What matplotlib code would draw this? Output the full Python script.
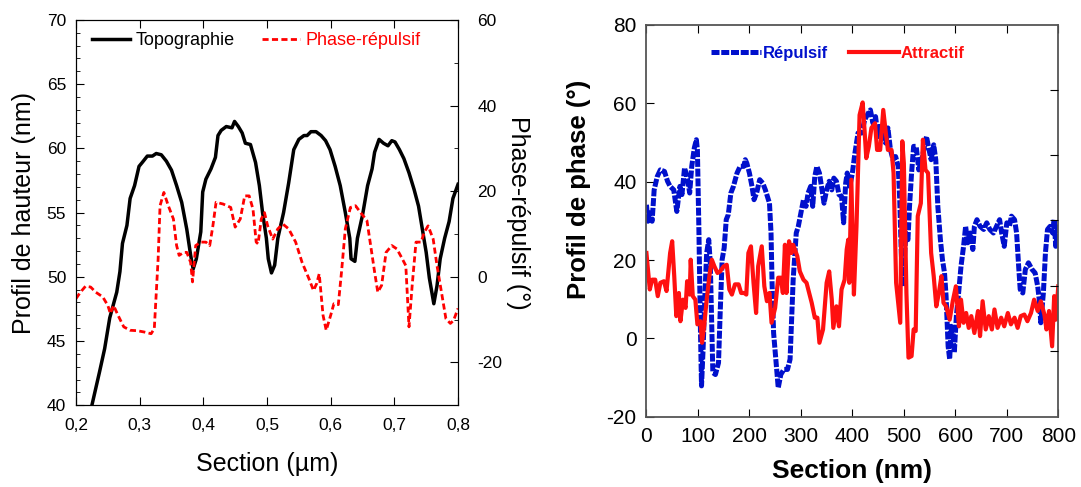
import matplotlib.pyplot as plt
from matplotlib.ticker import MultipleLocator, FuncFormatter

plt.rcParams['font.family'] = ['Liberation Sans', 'DejaVu Sans']
plt.rcParams['axes.unicode_minus'] = False

# ---- left panel: topography (nm) + repulsive phase (deg) vs section (um)
topo_x = [0.225, 0.237, 0.245, 0.253, 0.264, 0.269, 0.273, 0.280, 0.285, 0.292,
          0.299, 0.304, 0.312, 0.320, 0.326, 0.334, 0.342, 0.350, 0.358, 0.366,
          0.374, 0.380, 0.384, 0.389, 0.396, 0.399, 0.404, 0.412, 0.419, 0.423,
          0.428, 0.436, 0.445, 0.449, 0.455, 0.461, 0.466, 0.474, 0.482, 0.488,
          0.493, 0.499, 0.502, 0.507, 0.512, 0.517, 0.526, 0.534, 0.542, 0.550,
          0.558, 0.563, 0.569, 0.577, 0.585, 0.592, 0.599, 0.607, 0.615, 0.623,
          0.630, 0.632, 0.638, 0.642, 0.650, 0.658, 0.665, 0.669, 0.676, 0.683,
          0.690, 0.696, 0.701, 0.708, 0.715, 0.723, 0.731, 0.738, 0.744, 0.750,
          0.755, 0.762, 0.767, 0.772, 0.779, 0.786, 0.792, 0.800]
topo_y = [40.0, 42.6, 44.4, 46.8, 48.8, 50.4, 52.6, 54.0, 56.1, 57.1,
          58.6, 58.9, 59.4, 59.4, 59.6, 59.5, 59.0, 58.3, 57.1, 55.8,
          53.7, 51.7, 50.6, 51.4, 53.5, 56.6, 57.6, 58.4, 59.3, 61.0,
          61.4, 61.7, 61.6, 62.1, 61.7, 61.2, 60.4, 60.3, 58.9, 57.1,
          55.0, 53.0, 51.4, 50.3, 50.9, 53.0, 55.0, 57.3, 59.9, 60.7,
          61.0, 61.0, 61.3, 61.3, 61.0, 60.6, 59.9, 58.6, 57.1, 55.0,
          53.0, 51.4, 51.2, 53.0, 54.8, 57.1, 58.4, 59.7, 60.7, 60.4,
          60.2, 60.6, 60.5, 59.9, 59.2, 58.1, 56.8, 55.5, 53.7, 51.9,
          49.9, 47.9, 49.3, 51.4, 53.0, 54.3, 56.1, 57.2]

rep_x = [0.200, 0.207, 0.215, 0.223, 0.231, 0.242, 0.250, 0.254, 0.259, 0.266,
         0.275, 0.285, 0.296, 0.307, 0.318, 0.323, 0.329, 0.332, 0.338, 0.345,
         0.353, 0.358, 0.362, 0.369, 0.374, 0.380, 0.383, 0.388, 0.396, 0.404,
         0.410, 0.415, 0.420, 0.431, 0.443, 0.450, 0.458, 0.465, 0.472, 0.478,
         0.483, 0.486, 0.491, 0.496, 0.501, 0.509, 0.517, 0.525, 0.534, 0.545,
         0.555, 0.566, 0.573, 0.578, 0.582, 0.588, 0.593, 0.600, 0.605, 0.612,
         0.617, 0.623, 0.631, 0.639, 0.647, 0.657, 0.662, 0.669, 0.674, 0.680,
         0.687, 0.696, 0.704, 0.711, 0.718, 0.723, 0.728, 0.734, 0.742, 0.747,
         0.753, 0.761, 0.767, 0.774, 0.781, 0.788, 0.793, 0.800]
rep_y = [-5.1, -3.6, -2.2, -2.4, -3.6, -4.7, -6.7, -8.6, -6.7, -9.0,
         -11.7, -12.5, -12.6, -12.9, -13.3, -12.1, 4.2, 16.6, 19.7, 16.6,
         13.5, 7.3, 5.0, 5.7, 5.7, 3.4, -1.2, 7.3, 8.1, 8.1,
         7.3, 11.9, 17.4, 17.0, 16.2, 11.6, 13.5, 18.9, 18.9, 15.8,
         8.1, 7.7, 13.5, 15.0, 11.9, 8.8, 11.2, 12.3, 11.2, 8.1,
         3.4, -0.5, -3.2, -1.6, 0.7, -9.0, -12.5, -9.0, -6.3, -6.5,
         1.1, 11.2, 16.2, 16.6, 15.0, 13.1, 8.1, 1.1, -3.6, -2.0,
         5.7, 7.3, 6.5, 4.6, 2.6, -11.7, -2.0, 8.1, 8.1, 10.4,
         11.9, 8.8, 2.6, -3.6, -9.8, -10.9, -10.2, -7.4]

# ---- right panel: phase profiles (deg) vs section (nm)
att_x = [0, 6.5, 11, 17, 22, 27, 34, 39, 46, 50, 54, 58, 63, 66, 71, 76, 79, 84,
         86, 90, 95, 99, 105, 108, 112, 117, 123, 127, 132, 138, 143, 150, 156,
         161, 166, 172, 179, 184, 190, 194, 198, 203, 208, 213, 217, 224, 229,
         234, 239, 243, 250, 256, 261, 265, 269, 272, 277, 282, 285, 293, 298,
         305, 311, 316, 321, 327, 332, 336, 343, 350, 355, 360, 363, 369, 374,
         379, 385, 389, 392, 394, 398, 403, 408, 414, 420, 424, 427, 432, 437,
         444, 448, 454, 460, 465, 469, 476, 480, 485, 491, 493, 497, 500, 505,
         509, 515, 519, 523, 527, 533, 537, 542, 547, 553, 558, 563, 568, 573,
         577, 582, 589, 595, 601, 607, 611, 616, 621, 626, 631, 637, 644, 648,
         653, 659, 665, 671, 676, 682, 689, 695, 702, 708, 715, 721, 727, 734,
         740, 747, 753, 760, 766, 773, 777, 782, 788, 792, 795, 800]
att_y = [21.8, 12.5, 15.0, 15.0, 10.8, 14.2, 14.6, 12.1, 21.8, 24.8, 15.9, 5.7,
         11.6, 4.4, 9.9, 7.8, 14.6, 11.2, 20.1, 10.8, 9.9, 3.6, 4.4, -1.1, 3.1,
         9.9, 16.7, 20.1, 18.4, 16.7, 17.1, 18.4, 18.8, 12.5, 11.2, 13.8, 13.8,
         11.6, 11.6, 11.2, 21.8, 23.5, 14.2, 6.5, 18.4, 23.5, 13.3, 9.5, 11.6,
         4.0, 7.8, 15.5, 15.5, 11.6, 23.9, 11.6, 24.8, 21.8, 23.9, 21.0, 17.1,
         15.0, 14.2, 11.6, 9.1, 5.3, 5.3, -1.1, 2.3, 14.2, 17.1, 9.9, 2.7, 8.2,
         3.1, 12.5, 15.0, 22.7, 25.2, 14.2, 40.5, 11.2, 28.6, 57.0, 60.2, 52.4,
         46.0, 49.0, 53.7, 54.9, 48.1, 48.1, 58.3, 52.4, 48.1, 48.1, 42.2, 14.2,
         6.5, 4.0, 50.3, 44.7, 11.6, -4.9, -4.5, 2.3, 1.9, 31.2, 34.5, 50.7,
         43.0, 42.2, 21.8, 15.9, 8.2, 11.6, 15.9, 9.1, 8.2, 4.8, 9.5, 13.3, 3.1,
         9.9, 4.0, 6.5, 2.7, 5.7, 1.4, 7.0, 0.6, 9.5, 2.3, 5.7, 2.3, 7.4, 2.7,
         5.3, 3.1, 6.5, 3.6, 5.3, 2.7, 5.7, 6.1, 4.4, 6.5, 9.9, 7.0, 9.5, 6.1,
         2.3, 7.0, -2.0, 10.8, 4.8, 13.3]

rp_x = [0, 3, 6, 11, 15, 21, 27, 35, 41, 46, 53, 59, 65, 69, 74, 79, 84, 88, 93,
        97, 99, 102, 105, 107, 110, 114, 117, 121, 124, 127, 129, 134, 140, 143,
        147, 151, 155, 159, 164, 169, 176, 182, 189, 192, 195, 200, 205, 209,
        214, 220, 226, 231, 235, 239, 242, 244, 247, 252, 256, 261, 267, 274,
        279, 282, 285, 291, 295, 300, 305, 310, 314, 319, 323, 327, 331, 336,
        340, 345, 350, 355, 360, 364, 369, 374, 379, 383, 387, 390, 395, 400,
        405, 411, 418, 424, 431, 435, 440, 445, 450, 454, 460, 465, 469, 474,
        479, 484, 489, 492, 495, 498, 504, 508, 511, 515, 519, 524, 529, 536,
        540, 544, 549, 553, 558, 562, 566, 571, 575, 579, 582, 586, 589, 592,
        595, 598, 602, 607, 611, 616, 620, 624, 629, 634, 637, 642, 648, 655,
        661, 667, 674, 680, 686, 690, 695, 700, 705, 709, 715, 719, 723, 726,
        731, 736, 742, 749, 755, 760, 763, 766, 771, 775, 779, 784, 789, 792,
        795, 800]
rp_y = [34.1, 29.9, 32.0, 29.9, 37.9, 41.3, 43.0, 42.6, 40.1, 38.8, 37.9, 32.4,
        38.8, 36.7, 43.5, 41.3, 37.1, 43.9, 48.6, 50.7, 48.1, 26.9, 1.4, -12.1,
        -2.8, 12.5, 21.8, 25.2, 19.3, 2.8, -8.7, -9.2, -6.2, 5.7, 20.1, 23.1,
        30.3, 31.6, 37.1, 38.8, 42.2, 43.9, 43.9, 45.6, 44.7, 42.2, 38.8, 35.4,
        37.1, 40.5, 39.6, 37.9, 36.2, 34.5, 26.9, 14.2, 1.4, -6.2, -12.6, -9.2,
        -7.9, -7.9, -5.3, 4.8, 15.0, 26.9, 28.6, 32.0, 35.4, 33.7, 37.1, 38.8,
        33.7, 41.3, 43.9, 42.2, 38.8, 34.5, 37.9, 40.1, 37.9, 40.9, 40.1, 36.7,
        36.2, 29.5, 39.6, 42.2, 38.8, 42.2, 47.3, 52.4, 52.4, 55.8, 57.5, 58.3,
        54.9, 56.6, 51.5, 54.1, 50.7, 49.8, 53.7, 48.1, 45.6, 46.4, 43.9, 35.4,
        21.8, 13.3, 26.9, 25.2, 33.7, 42.2, 49.0, 49.0, 43.0, 46.4, 49.0, 51.5,
        48.1, 45.6, 49.4, 45.6, 33.7, 25.2, 20.1, 16.7, 10.8, -2.0, -5.3, 3.1,
        1.4, -3.6, 5.7, 12.5, 18.4, 23.5, 28.6, 24.4, 26.9, 22.7, 28.6, 30.3,
        28.6, 27.8, 29.5, 27.8, 26.9, 28.6, 30.3, 26.9, 23.5, 29.5, 28.6, 31.2,
        30.3, 26.9, 18.4, 12.5, 11.6, 17.6, 19.3, 17.6, 16.7, 13.3, 9.9, 4.0,
        11.6, 21.8, 27.8, 28.6, 26.9, 30.3, 23.5, 29.5]

fig = plt.figure(figsize=(10.81, 4.87), dpi=100)

# ================= left panel
ax1 = fig.add_axes([0.0703, 0.168, 0.3534, 0.791])
ax1.plot(topo_x, topo_y, color='black', lw=2.5, label='Topographie')
ax1.set_xlim(0.2, 0.8)
ax1.set_ylim(40, 70)
ax1.xaxis.set_major_locator(MultipleLocator(0.1))
ax1.xaxis.set_major_formatter(FuncFormatter(lambda v, p: f'{v:.1f}'.replace('.', ',')))
ax1.yaxis.set_major_locator(MultipleLocator(5))
ax1.yaxis.set_minor_locator(MultipleLocator(1))
ax1.tick_params(which='both', direction='in', top=True, labelsize=12.5)
ax1.tick_params(axis='x', pad=9)
ax1.tick_params(axis='y', pad=7)
ax1.tick_params(which='major', length=6)
ax1.tick_params(which='minor', length=3)
ax1.set_xlabel('Section (µm)', fontsize=18, labelpad=14)
ax1.set_ylabel('Profil de hauteur (nm)', fontsize=18, labelpad=8)

ax1b = ax1.twinx()
ax1b.plot(rep_x, rep_y, color='red', lw=2, ls=(0, (2.2, 1.2)), label='Phase-répulsif')
ax1b.set_ylim(-30, 60)
ax1b.yaxis.set_major_locator(MultipleLocator(20))
ax1b.yaxis.set_minor_locator(MultipleLocator(10))
ax1b.tick_params(which='both', direction='in', labelsize=12.5, pad=14)
ax1b.tick_params(which='major', length=6)
ax1b.tick_params(which='minor', length=3)
ax1b.set_ylabel('Phase-répulsif (°)', fontsize=18, rotation=270, labelpad=20)

h1, l1 = ax1.get_legend_handles_labels()
h2, l2 = ax1b.get_legend_handles_labels()
leg1 = ax1b.legend(h1 + h2, l1 + l2, ncol=2, loc='upper left', frameon=False,
                   fontsize=13, handlelength=2.1, handletextpad=0.3,
                   columnspacing=1.5, bbox_to_anchor=(0.0, 1.01))
for t, c in zip(leg1.get_texts(), ['black', 'red']):
    t.set_color(c)

# ================= right panel
ax2 = fig.add_axes([0.598, 0.144, 0.381, 0.805])
ax2.plot(rp_x, rp_y, color='#0010cc', lw=3.6, ls=(0, (1.6, 0.35)), label='Répulsif')
ax2.plot(att_x, att_y, color='#ff1010', lw=3, label='Attractif')
ax2.set_xlim(0, 800)
ax2.set_ylim(-20, 80)
ax2.xaxis.set_major_locator(MultipleLocator(100))
ax2.yaxis.set_major_locator(MultipleLocator(20))
ax2.tick_params(direction='in', top=True, length=6, labelsize=15, pad=7)
for s in ax2.spines.values():
    s.set_color('#555555')
    s.set_linewidth(1.3)
ax2.set_xlabel('Section (nm)', fontsize=19, fontweight='bold', labelpad=10)
ax2.set_ylabel('Profil de phase (°)', fontsize=18.5, fontweight='bold')
ax2.yaxis.set_label_coords(-0.135, 0.58)

ax2b = ax2.twinx()
ax2b.set_ylim(-20, 80)
ax2b.set_yticks([-3.2, 13.3, 30.3, 46.7, 63.4])
ax2b.set_yticklabels([])
ax2b.tick_params(direction='in', length=6)
for s in ax2b.spines.values():
    s.set_visible(False)

leg2 = ax2.legend(ncol=2, loc='upper left', frameon=False,
                  prop={'weight': 'bold', 'size': 12},
                  handlelength=3.0, handletextpad=0.1, columnspacing=1.3,
                  bbox_to_anchor=(0.12, 0.985))
for t, c in zip(leg2.get_texts(), ['#0010cc', '#ff1010']):
    t.set_color(c)

fig.savefig('out.png', dpi=100)
